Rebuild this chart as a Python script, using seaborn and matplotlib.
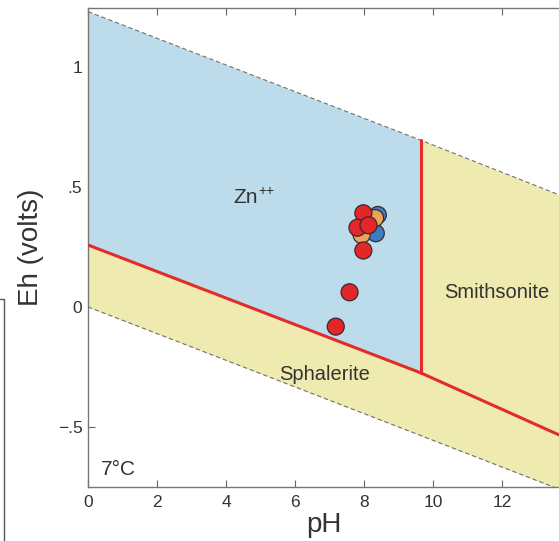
import numpy as np
import pandas as pd
import matplotlib
matplotlib.use("Agg")
import matplotlib.pyplot as plt
import seaborn as sns
from matplotlib.lines import Line2D

# ---- data ----
ph_grid = [0.0, 9.65, 13.65]
water_upper_eh = [1.23, 0.694, 0.467]      # upper dashed (O2/H2O)
water_lower_eh = [0.0, -0.536, -0.759]     # lower dashed (H2O/H2)
boundary_eh = [0.258, -0.275, -0.533]      # red Zn++/sphalerite/smithsonite boundary
vertical_ph = 9.65

sample_ph = [8.40, 8.34, 8.32, 7.93, 7.98, 7.81, 8.13, 7.98, 7.58, 7.18]
sample_eh = [0.383, 0.307, 0.370, 0.300, 0.390, 0.330, 0.340, 0.235, 0.061, -0.082]
sample_group = ["blue", "blue", "orange", "orange", "red", "red", "red", "red", "red", "red"]

x_ticks = [0, 2, 4, 6, 8, 10, 12]
y_ticks = [-0.5, 0, 0.5, 1]
y_tick_labels = ["\u2212.5", "0", ".5", "1"]

sns.set_theme(style="white")
plt.rcParams['font.family'] = ['Liberation Sans', 'DejaVu Sans']
plt.rcParams['mathtext.fontset'] = 'custom'
plt.rcParams['mathtext.rm'] = 'Liberation Sans'

fig = plt.figure(figsize=(5.59, 5.41), dpi=100)
ax = fig.add_axes([88/559, 54/541, 471/559, 479/541])

blue = "#bcdcec"
yellow = "#efebb0"
ph = np.array(ph_grid)
up = np.array(water_upper_eh)
lo = np.array(water_lower_eh)
bd = np.array(boundary_eh)

# yellow stability field between water lines
ax.fill_between(ph, lo, up, color=yellow, lw=0, zorder=1)
# Zn++ field (blue)
ax.fill_between(ph[:2], bd[:2], up[:2], color=blue, lw=0, zorder=2)

# dashed water lines
ax.plot(ph, up, ls=(0, (4, 2.5)), color="#707070", lw=0.8, zorder=3)
ax.plot(ph, lo, ls=(0, (4, 2.5)), color="#707070", lw=0.8, zorder=3)
# red boundaries
ax.plot(ph, bd, color="#e32b2b", lw=2.2, zorder=4)
ax.plot([vertical_ph, vertical_ph], [bd[1], up[1]], color="#e32b2b", lw=2.2, zorder=4)

df = pd.DataFrame({"pH": sample_ph, "Eh": sample_eh, "group": sample_group})
palette = {"blue": "#3a7dc2", "orange": "#eea35a", "red": "#e3262a"}
sns.scatterplot(data=df, x="pH", y="Eh", hue="group", palette=palette, s=150,
                edgecolor="#3a2a2a", linewidth=0.9, legend=False, ax=ax, zorder=5)

tc = "#333333"
ax.text(4.2, 0.433, "Zn", fontsize=15, ha="left", va="baseline", color=tc, zorder=6)
ax.text(4.93, 0.468, "++", fontsize=10, ha="left", va="baseline", color=tc, zorder=6)
ax.text(11.84, 0.0375, "Smithsonite", fontsize=14.5, ha="center", va="baseline", color=tc, zorder=6)
ax.text(6.87, -0.304, "Sphalerite", fontsize=14.5, ha="center", va="baseline", color=tc, zorder=6)
ax.text(0.377, -0.70, "7°C", fontsize=15, ha="left", va="baseline", color=tc, zorder=6)

ax.set_xlim(0, 13.65)
ax.set_ylim(-0.75, 1.245)
ax.set_xticks(x_ticks)
ax.set_yticks(y_ticks)
ax.set_yticklabels(y_tick_labels)
ax.tick_params(axis="both", direction="in", length=5, width=0.8, color="#666666",
               labelsize=12.5, labelcolor=tc, top=True, bottom=True, left=True, right=False)
ax.tick_params(axis="x", pad=6)
ax.tick_params(axis="y", pad=4)
for s in ["left", "bottom", "top"]:
    ax.spines[s].set_color("#777777")
    ax.spines[s].set_linewidth(1.0)
ax.spines["right"].set_visible(False)
ax.set_xlabel("pH", fontsize=20, color=tc, labelpad=1)
ax.set_ylabel("Eh (volts)", fontsize=20, color=tc, labelpad=10)

# remnant frame of neighbouring panel at the left edge
fig.add_artist(Line2D([0, 4/559], [1-299/541, 1-299/541], color="#555555", lw=1.0, transform=fig.transFigure))
fig.add_artist(Line2D([4/559, 4/559], [0, 1-299/541], color="#555555", lw=1.0, transform=fig.transFigure))

fig.savefig("out.png", dpi=100)
